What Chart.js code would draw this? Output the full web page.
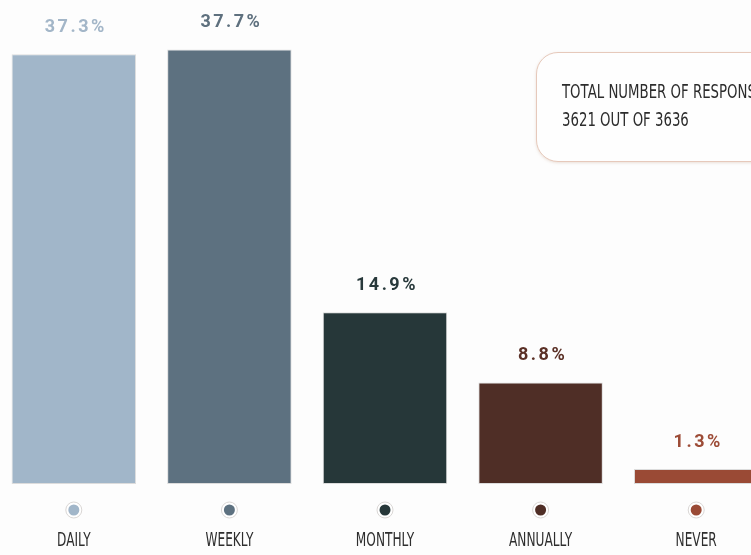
<!DOCTYPE html>
<html>
<head>
<meta charset="utf-8">
<script src="https://cdn.jsdelivr.net/npm/chart.js@4.4.0/dist/chart.umd.min.js"></script>
<style>
  html, body { margin: 0; padding: 0; background: #fdfdfd; overflow: hidden; }
  body { width: 751px; height: 555px; position: relative; }
  #wrap { position: absolute; left: -4px; top: 0; width: 778px; height: 555px; }
  #note {
    position: absolute; left: 536px; top: 52px; width: 260px; height: 110px;
    border: 1.5px solid #e6c9bb; border-radius: 22px; box-sizing: border-box;
    background: #fefefe; box-shadow: 0 1px 3px rgba(200,170,150,0.35);
    padding: 24px 0 0 25px; white-space: nowrap; overflow: hidden;
  }
  #note span {
    display: block; transform: scaleX(0.70); transform-origin: left center;
    font-family: "DejaVu Sans", sans-serif; font-size: 19px; color: #2c2c2c;
    line-height: 28px;
  }
</style>
</head>
<body>
<div id="wrap"><canvas id="chart"></canvas></div>
<div id="note"><span>TOTAL NUMBER OF RESPONSES</span><span>3621 OUT OF 3636</span></div>
<script>
// --- DATA ---
const categories = ["DAILY", "WEEKLY", "MONTHLY", "ANNUALLY", "NEVER"];
const shares = [37.3, 37.7, 14.9, 8.8, 1.3];
const barColors = ["#a1b6c9", "#5d7180", "#263739", "#4f2e26", "#9a4a35"];
const labelColors = ["#a3b6c8", "#5e707e", "#28393b", "#5b3026", "#9d4c37"];

// --- PLUGINS ---
// percent labels above each bar
const valueLabels = {
    id: "valueLabels",
    afterDatasetsDraw(chart) {
        const ctx = chart.ctx;
        const meta = chart.getDatasetMeta(0);
        ctx.save();
        ctx.font = "bold 18px Roboto, sans-serif";
        ctx.letterSpacing = "2.5px";
        ctx.textAlign = "center";
        ctx.textBaseline = "middle";
        meta.data.forEach((bar, i) => {
            ctx.fillStyle = labelColors[i];
            ctx.fillText(shares[i].toFixed(1) + "%", bar.x + 2, bar.y - 27);
        });
        ctx.restore();
    }
};

// dots + category names under the bars (narrow lettering)
const bottomLabels = {
    id: "bottomLabels",
    afterDraw(chart) {
        const ctx = chart.ctx;
        const x = chart.scales.x;
        const base = chart.chartArea.bottom;
        ctx.save();
        categories.forEach((c, i) => {
            const cx = x.getPixelForValue(i);
            ctx.beginPath();
            ctx.arc(cx, base + 26, 8, 0, Math.PI * 2);
            ctx.fillStyle = "#ffffff";
            ctx.fill();
            ctx.lineWidth = 1;
            ctx.strokeStyle = "#d9d6d4";
            ctx.stroke();
            ctx.beginPath();
            ctx.arc(cx, base + 26, 5.5, 0, Math.PI * 2);
            ctx.fillStyle = barColors[i];
            ctx.fill();

            ctx.save();
            ctx.translate(cx, base + 57);
            ctx.scale(0.64, 1);
            ctx.font = "19px 'DejaVu Sans', sans-serif";
            ctx.fillStyle = "#2e2e2e";
            ctx.textAlign = "center";
            ctx.textBaseline = "middle";
            ctx.fillText(c, 0, 0);
            ctx.restore();
        });
        ctx.restore();
    }
};

// --- CHART ---
new Chart(document.getElementById("chart"), {
    type: "bar",
    data: {
        labels: categories,
        datasets: [{
            data: shares,
            backgroundColor: barColors,
            borderColor: "rgba(0,0,0,0.13)",
            borderWidth: 1,
            borderSkipped: false,
            barPercentage: 0.8,
            categoryPercentage: 1.0
        }]
    },
    options: {
        responsive: true,
        maintainAspectRatio: false,
        animation: false,
        layout: { padding: { top: 0, left: 0, right: 0, bottom: 71 } },
        plugins: { legend: { display: false }, tooltip: { enabled: false } },
        scales: {
            y: { display: false, min: 0, max: 42 },
            x: { display: false, offset: true }
        }
    },
    plugins: [valueLabels, bottomLabels]
});
</script>
</body>
</html>
